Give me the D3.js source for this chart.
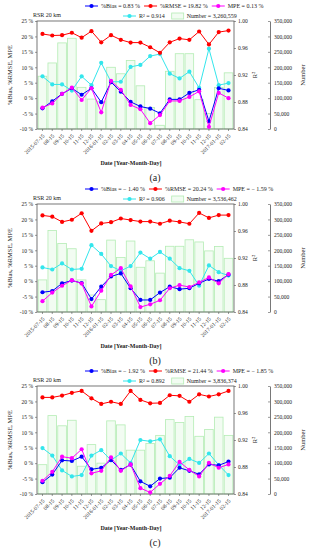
<!DOCTYPE html>
<html>
<head>
<meta charset="utf-8">
<script src="https://cdn.jsdelivr.net/npm/d3@7"></script>
<style>
body { margin: 0; background: #fff; }
svg { display: block; }
text { font-family: "Liberation Serif", "Times New Roman", serif; fill: #222; }
</style>
</head>
<body>
<svg id="chart" width="310" height="550"></svg>
<script>
var dates = ["2015-07-15", "08-15", "09-15", "10-15", "11-15", "12-15", "2016-01-15", "02-15", "03-15", "04-15",
    "05-15", "06-15", "07-15", "08-15", "09-15", "10-15", "11-15", "12-15", "2017-01-15", "02-15"];

// (a)
var biasA = [-3.3, -1.0, 1.4, 3.2, 1.1, 3.2, -1.3, 5.2, 2.1, -1.2, -2.7, -3.4, -4.9, -0.4, -0.4, 1.7, 2.7, -7.5, 3.2, 2.5];
var rmseA = [20.8, 20.3, 20.4, 21.2, 19.6, 21.7, 18.1, 20.4, 18.9, 18.0, 18.0, 16.5, 14.7, 18.1, 19.3, 18.9, 21.6, 17.4, 21.4, 21.9];
var mpeA = [-3.1, -1.7, 1.4, 3.4, -0.6, 3.2, -4.6, 5.6, 2.7, -2.2, -3.6, -8.1, -5.5, -0.9, -0.9, 0.4, 2.2, -9.3, 1.7, 0.0];
var r2A = [0.918, 0.906, 0.906, 0.897, 0.918, 0.905, 0.938, 0.910, 0.910, 0.932, 0.935, 0.948, 0.951, 0.922, 0.915, 0.925, 0.901, 0.959, 0.905, 0.908];
var numA = [171000, 214000, 279000, 294000, 135000, 97000, 90000, 200000, 179000, 222000, 140000, 70000, 12000, 187000, 244000, 244000, 95000, 50000, 135000, 182000];
var legendA = ["%Bias = 0.83 %", "%RMSE = 19.82 %", "MPE = 0.13 %", "R\u00B2 = 0.914", "Number = 3,260,559"];

// (b)
var biasB = [-3.6, -3.2, -0.7, 0.2, -0.6, -5.8, -1.8, 1.5, 2.5, -2.3, -6.1, -6.1, -3.7, -1.8, -2.6, -2.3, -0.7, 0.7, 0.0, 2.1];
var rmseB = [21.3, 20.9, 19.2, 19.9, 22.0, 16.3, 18.7, 19.1, 20.3, 19.8, 19.3, 19.3, 18.6, 19.6, 19.2, 18.6, 22.1, 20.5, 21.4, 21.4];
var mpeB = [-6.5, -3.7, -1.5, 0.3, -0.8, -8.2, -3.1, 2.0, 4.2, -1.7, -8.4, -7.5, -6.2, -2.3, -1.3, -1.9, -0.4, 1.2, -0.7, 2.3];
var r2B = [0.906, 0.903, 0.912, 0.903, 0.904, 0.939, 0.926, 0.908, 0.901, 0.908, 0.928, 0.919, 0.929, 0.919, 0.905, 0.901, 0.879, 0.909, 0.899, 0.894];
var numB = [104000, 264000, 222000, 205000, 104000, 55000, 40000, 233000, 177000, 230000, 145000, 166000, 126000, 213000, 213000, 234000, 227000, 198000, 212000, 174000];
var legendB = ["%Bias = \u2212 1.40 %", "%RMSE = 20.24 %", "MPE = \u2212 1.59 %", "R\u00B2 = 0.906", "Number = 3,536,462"];

// (c)
var biasC = [-6.2, -3.7, 0.9, 0.7, 2.1, -2.0, -1.5, 1.0, -2.2, -0.5, -5.9, -7.5, -5.0, -4.7, -1.5, -2.5, -3.6, -0.4, -0.7, 0.5];
var rmseC = [21.3, 21.3, 21.9, 22.8, 23.4, 21.0, 19.2, 19.9, 19.2, 23.4, 20.5, 19.4, 19.5, 22.0, 21.8, 19.9, 22.3, 21.6, 22.3, 23.4];
var mpeC = [-5.7, -2.8, 2.1, 1.6, 4.5, -3.3, -2.5, 1.9, -2.5, -0.4, -8.1, -9.5, -6.7, -4.1, 0.4, -2.2, -4.3, 0.1, -1.5, -0.4];
var r2C = [0.908, 0.897, 0.875, 0.866, 0.868, 0.897, 0.905, 0.890, 0.900, 0.886, 0.920, 0.918, 0.921, 0.896, 0.883, 0.892, 0.886, 0.900, 0.883, 0.868];
var numC = [95000, 254000, 221000, 239000, 90000, 160000, 100000, 237000, 224000, 142000, 142000, 164000, 190000, 241000, 232000, 251000, 187000, 209000, 249000, 190000];
var legendC = ["%Bias = \u2212 1.92 %", "%RMSE = 21.44 %", "MPE = \u2212 1.85 %", "R\u00B2 = 0.892", "Number = 3,836,374"];

var leftTicks = [-10, -5, 0, 5, 10, 15, 20, 25];
var r2Ticks = [0.84, 0.88, 0.92, 0.96, 1.00];
var numTicks = [0, 50000, 100000, 150000, 200000, 250000, 300000, 350000];

var COLORS = { bias: "#0000ff", rmse: "#ff0000", mpe: "#ff00ff", r2: "#33e6ec" };

var svg = d3.select("#chart");
svg.append("rect").attr("width", 310).attr("height", 550).attr("fill", "#fff");

var panels = [
    { top: 21, tag: "(a)", bias: biasA, rmse: rmseA, mpe: mpeA, r2: r2A, num: numA, legend: legendA },
    { top: 204, tag: "(b)", bias: biasB, rmse: rmseB, mpe: mpeB, r2: r2B, num: numB, legend: legendB },
    { top: 386, tag: "(c)", bias: biasC, rmse: rmseC, mpe: mpeC, r2: r2C, num: numC, legend: legendC }
];

var H = 108, X0 = 37, X1 = 234;

function drawPanel(p) {
    let g = svg.append("g").attr("transform", "translate(0," + p.top + ")");

    let x = d3.scaleBand().domain(d3.range(dates.length)).range([X0, X1])
        .paddingInner(0.12).paddingOuter(0.12);
    let y = d3.scaleLinear().domain([-10, 25]).range([H, 0]);
    let yR = d3.scaleLinear().domain([0.84, 1.0]).range([H, 0]);
    let yN = d3.scaleLinear().domain([0, 350000]).range([H, 0]);
    let cx = i => x(i) + x.bandwidth() / 2;

    // bars (Number)
    g.selectAll("rect.bar")
        .data(p.num)
        .enter()
        .append("rect")
        .attr("class", "bar")
        .attr("x", (d, i) => x(i))
        .attr("width", x.bandwidth())
        .attr("y", d => yN(d))
        .attr("height", d => H - yN(d))
        .style("fill", "#f2fcf2")
        .style("stroke", "#b4ecb4")
        .style("stroke-width", 0.8);

    // frame
    g.append("rect")
        .attr("x", X0).attr("y", 0)
        .attr("width", X1 - X0).attr("height", H)
        .style("fill", "none").style("stroke", "#555").style("stroke-width", 0.8);

    // axes
    let axL = g.append("g").attr("transform", "translate(" + X0 + ",0)")
        .call(d3.axisLeft(y).tickValues(leftTicks).tickSize(2).tickPadding(2).tickFormat(d => d + " %"));
    let axR = g.append("g").attr("transform", "translate(" + X1 + ",0)")
        .call(d3.axisRight(yR).tickValues(r2Ticks).tickSize(2).tickPadding(2).tickFormat(d3.format(".2f")));
    let axN = g.append("g").attr("transform", "translate(270,0)")
        .call(d3.axisRight(yN).tickValues(numTicks).tickSizeInner(-2).tickSizeOuter(0).tickPadding(4).tickFormat(d3.format(",")));
    let axB = g.append("g").attr("transform", "translate(0," + H + ")")
        .call(d3.axisBottom(x).tickSize(2).tickFormat(i => dates[i]));
    axB.selectAll("line").attr("transform", "translate(0,0)");
    axB.selectAll("text")
        .attr("x", 0).attr("y", 0).attr("dy", "0.35em")
        .attr("transform", "translate(1,6) rotate(-45)")
        .style("text-anchor", "end");

    [axL, axR, axB].forEach(a => a.select(".domain").remove());
    [axL, axR, axN, axB].forEach(a => {
        a.selectAll("text").style("font-family", "Liberation Serif").style("font-size", "5.5px").style("fill", "#222");
        a.selectAll("line").style("stroke", "#555").style("stroke-width", 0.6);
        a.selectAll(".domain").style("stroke", "#555").style("stroke-width", 0.8);
    });

    // series
    let series = [
        { v: p.r2, s: yR, c: COLORS.r2 },
        { v: p.rmse, s: y, c: COLORS.rmse },
        { v: p.bias, s: y, c: COLORS.bias },
        { v: p.mpe, s: y, c: COLORS.mpe }
    ];
    series.forEach(sr => {
        let line = d3.line().x((d, i) => cx(i)).y(d => sr.s(d));
        g.append("path")
            .attr("d", line(sr.v))
            .style("fill", "none")
            .style("stroke", sr.c)
            .style("stroke-width", 1);
        g.selectAll(null)
            .data(sr.v)
            .enter()
            .append("circle")
            .attr("cx", (d, i) => cx(i))
            .attr("cy", d => sr.s(d))
            .attr("r", 2.1)
            .style("fill", sr.c);
    });

    // axis titles
    g.append("text")
        .attr("transform", "translate(12," + (H / 2) + ") rotate(-90)")
        .attr("text-anchor", "middle")
        .style("font-size", "6.5px")
        .text("%Bias, %RMSE, MPE");
    g.append("text")
        .attr("transform", "translate(257," + (H / 2) + ") rotate(-90)")
        .attr("text-anchor", "middle")
        .style("font-size", "6.5px")
        .text("R\u00B2");
    g.append("text")
        .attr("transform", "translate(305," + (H / 2) + ") rotate(-90)")
        .attr("text-anchor", "middle")
        .style("font-size", "6.5px")
        .text("Number");
    g.append("text")
        .attr("x", 131).attr("y", H + 36)
        .attr("text-anchor", "middle")
        .style("font-size", "6px")
        .style("font-weight", "bold")
        .text("Date  [Year-Month-Day]");
    g.append("text")
        .attr("x", 155).attr("y", H + 52)
        .attr("text-anchor", "middle")
        .style("font-size", "10px")
        .text(p.tag);

    g.append("text")
        .attr("x", 33).attr("y", -4)
        .style("font-size", "6px")
        .text("RSR  20 km");

    // legend
    let row1 = [[COLORS.bias, p.legend[0]], [COLORS.rmse, p.legend[1]], [COLORS.mpe, p.legend[2]]];
    let lx = 85;
    row1.forEach(it => {
        lx = legendLine(g, lx, -15, it[0], it[1]) + 4;
    });
    let lx2 = legendLine(g, 123, -5, COLORS.r2, p.legend[3]) + 7;
    g.append("rect")
        .attr("x", lx2).attr("y", -8).attr("width", 12).attr("height", 6)
        .style("fill", "#f2fcf2").style("stroke", "#b4ecb4").style("stroke-width", 0.8);
    g.append("text")
        .attr("x", lx2 + 15).attr("y", -3)
        .style("font-size", "6px")
        .text(p.legend[4]);
}

function legendLine(g, x0, yy, color, label) {
    g.append("line")
        .attr("x1", x0).attr("x2", x0 + 13)
        .attr("y1", yy).attr("y2", yy)
        .style("stroke", color).style("stroke-width", 1);
    g.append("circle")
        .attr("cx", x0 + 6.5).attr("cy", yy).attr("r", 2.1)
        .style("fill", color);
    let t = g.append("text")
        .attr("x", x0 + 16).attr("y", yy + 2)
        .style("font-size", "6px")
        .text(label);
    return x0 + 16 + t.node().getComputedTextLength();
}

panels.forEach(drawPanel);
</script>
</body>
</html>
